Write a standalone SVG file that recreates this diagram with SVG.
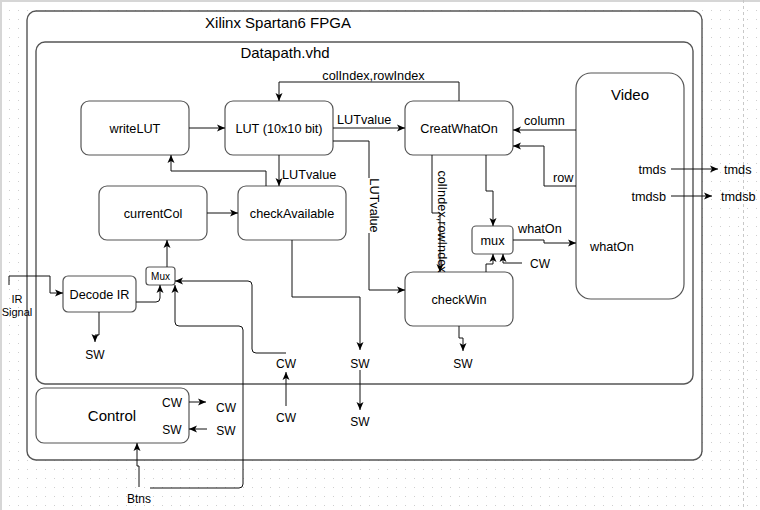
<svg xmlns="http://www.w3.org/2000/svg" width="760" height="510" viewBox="0 0 760 510">
<defs>
<pattern id="grid" width="9" height="9" patternUnits="userSpaceOnUse" x="0" y="1"><rect width="1" height="1" fill="#cfcfcf"/></pattern>
<marker id="arr" viewBox="0 0 8 8" refX="8" refY="4" markerWidth="8" markerHeight="8" orient="auto" markerUnits="userSpaceOnUse"><path d="M0,0.5 L8,4 L0,7.5 L2,4 z" fill="#000"/></marker>
</defs>
<style>
text{font-family:"Liberation Sans",Arial,sans-serif;fill:#000;font-size:12.7px}
.frame{fill:#fff;stroke:#555;stroke-width:1.4}
.node rect{fill:#fff;stroke:#555;stroke-width:1.2}
.c{text-anchor:middle}
.e{text-anchor:end}
.big{font-size:15px}
#connectors path{fill:none;stroke:#111;stroke-width:1}
.ah{marker-end:url(#arr)}
</style>
<rect width="760" height="510" fill="#fff"/>
<rect width="760" height="510" fill="url(#grid)"/>
<rect x="0" y="0" width="760" height="2" fill="#d6d6d6"/>
<rect x="0" y="0" width="2" height="510" fill="#d6d6d6"/>
<line x1="743.5" y1="0" x2="743.5" y2="510" stroke="#c8c8c8" stroke-dasharray="3 3"/>

<g id="fpga">
<rect class="frame" x="27" y="11" width="675" height="449" rx="9"/>
<text class="c big" x="278" y="28">Xilinx Spartan6 FPGA</text>
</g>
<g id="datapath">
<rect class="frame" x="36" y="42" width="657" height="342" rx="9"/>
<text class="c big" x="285" y="58">Datapath.vhd</text>
</g>

<g id="writeLUT" class="node"><rect x="81" y="101" width="108" height="54" rx="8"/><text class="c" x="135" y="132.5">writeLUT</text></g>
<g id="LUT" class="node"><rect x="225" y="101" width="108" height="54" rx="8"/><text class="c" x="279" y="132.5">LUT (10x10 bit)</text></g>
<g id="CreatWhatOn" class="node"><rect x="405" y="101" width="108" height="54" rx="8"/><text class="c" x="459" y="132.5">CreatWhatOn</text></g>
<g id="currentCol" class="node"><rect x="99" y="186" width="108" height="54" rx="8"/><text class="c" x="153" y="217.5">currentCol</text></g>
<g id="checkAvailable" class="node"><rect x="238" y="186" width="108" height="54" rx="8"/><text class="c" x="292" y="217.5">checkAvailable</text></g>
<g id="checkWin" class="node"><rect x="405" y="272" width="108" height="54" rx="8"/><text class="c" x="459" y="303.5">checkWin</text></g>
<g id="mux" class="node"><rect x="472" y="226" width="41" height="28" rx="4"/><text class="c" x="492.5" y="244.5">mux</text></g>
<g id="Mux" class="node"><rect x="146" y="267" width="29" height="18" rx="3"/><text class="c" x="160.5" y="279.5" style="font-size:10px">Mux</text></g>
<g id="DecodeIR" class="node"><rect x="63" y="276" width="73" height="36" rx="5"/><text class="c" x="99.5" y="298.5">Decode IR</text></g>
<g id="Video" class="node"><rect x="576" y="73" width="108" height="226" rx="15"/>
<text class="c big" x="630" y="99.5">Video</text>
<text class="e" x="666" y="173.5">tmds</text>
<text class="e" x="666" y="201">tmdsb</text>
<text x="590" y="250.5">whatOn</text>
</g>
<g id="Control" class="node"><rect x="36" y="388" width="153" height="55" rx="8"/>
<text class="c big" x="112" y="421">Control</text>
<text class="c" x="172" y="407" style="font-size:12px">CW</text>
<text class="c" x="172" y="434" style="font-size:12px">SW</text>
</g>

<g id="connectors">
<path class="ah" d="M189,128 H225"/>
<path class="ah" d="M459,101 V82 H279 V101"/>
<path class="ah" d="M333,128 H405"/>
<path class="ah" d="M333,141 H369 V290 H405"/>
<path class="ah" d="M279,155 V186"/>
<path class="ah" d="M266,186 V171 H171 V155"/>
<path class="ah" d="M207,213 H238"/>
<path class="ah" d="M167,267 V240"/>
<path class="ah" d="M136,302 H156 Q160,302 160,298 V285"/>
<path class="ah" d="M150,488 H239 Q243,488 243,484 V330 Q243,326 239,326 H179 Q175,326 175,322 V285"/>
<path class="ah" d="M286,353 H256 Q252,353 252,349 V285 Q252,281 248,281 H175"/>
<path class="ah" d="M286,406 V372"/>
<path class="ah" d="M292,240 V297 H360 V350"/>
<path class="ah" d="M360,370 V410"/>
<path class="ah" d="M432,155 V213 H440 V272"/>
<path class="ah" d="M486,155 V191 H493 V226"/>
<path class="ah" d="M513,240 H544 V243 H576"/>
<path class="ah" d="M486,272 V264 H493 V254"/>
<path class="ah" d="M522,263 H503 V254"/>
<path class="ah" d="M576,130 H513"/>
<path class="ah" d="M576,186 H544 V146 H513"/>
<path class="ah" d="M671,169 H718"/>
<path class="ah" d="M671,196 H712"/>
<path class="ah" d="M99,312 V335 H95 V342"/>
<path class="ah" d="M459,326 V338 H463 V351"/>
<path class="ah" d="M9,285 V276 H50 V293 H63"/>
<path class="ah" d="M189,402 H206"/>
<path class="ah" d="M207,429 H189"/>
<path class="ah" d="M139,487 V466 H137 V443"/>
</g>

<g id="labels">
<text class="c" x="373.5" y="80">colIndex,rowIndex</text>
<text x="337" y="124">LUTvalue</text>
<rect x="368" y="178" width="14" height="55" fill="#fff"/>
<text class="c" transform="translate(370,205.5) rotate(90)">LUTvalue</text>
<text x="282" y="178.5">LUTvalue</text>
<text class="c" transform="translate(438,221.5) rotate(90)">colIndex,rowIndex</text>
<text x="518" y="232.5">whatOn</text>
<text x="524" y="125">column</text>
<text x="553" y="182">row</text>
<text class="c" x="540" y="267.5" style="font-size:12px">CW</text>
<text x="724" y="173.5">tmds</text>
<text x="721" y="201">tmdsb</text>
<text class="c" x="95" y="358.5" style="font-size:12px">SW</text>
<text class="c" x="286" y="367.5" style="font-size:12px">CW</text>
<text class="c" x="286" y="421.5" style="font-size:12px">CW</text>
<text class="c" x="360" y="367.5" style="font-size:12px">SW</text>
<text class="c" x="360" y="426" style="font-size:12px">SW</text>
<text class="c" x="463" y="367.5" style="font-size:12px">SW</text>
<text class="c" x="226" y="412" style="font-size:12px">CW</text>
<text class="c" x="226" y="434.5" style="font-size:12px">SW</text>
<text class="c" x="139" y="502.5" style="font-size:12px">Btns</text>
<text class="c" x="17" y="303" style="font-size:11px">IR</text>
<text class="c" x="17" y="316" style="font-size:11px">Signal</text>
</g>
</svg>
